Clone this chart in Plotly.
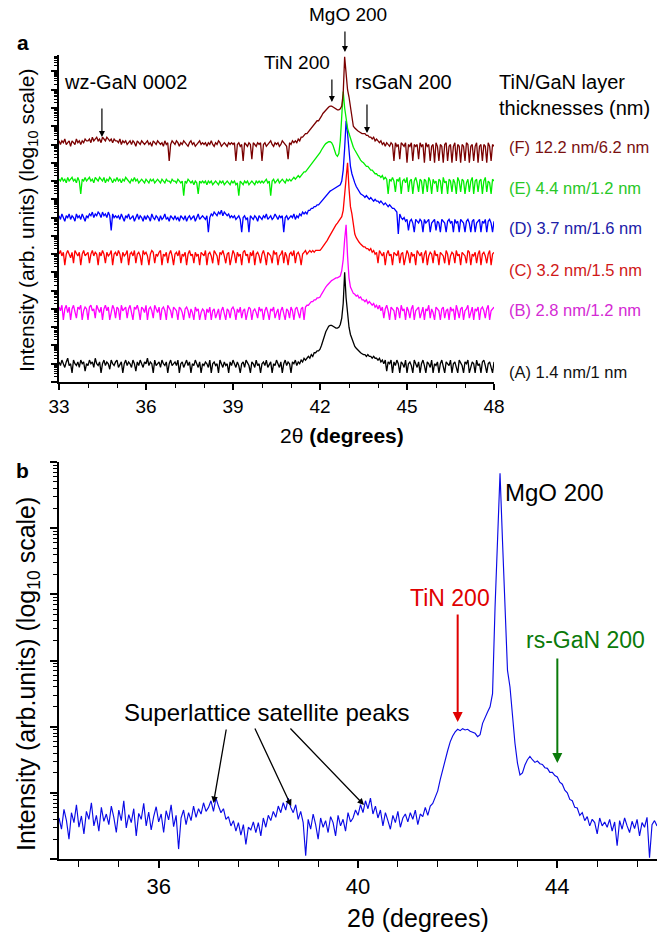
import numpy as np
import plotly.graph_objects as go

FONT = "Arial, Liberation Sans, sans-serif"
W, H = 668, 939

# ---------------- Panel a data (log10 intensity, arb. units, offset per sample) ----------------
# 2θ sampling: 0.05 deg throughout, in three stretches
a_left_range = (33.0, 41.95)
a_mid_range = (42.0, 43.45)
a_right_range = (43.5, 48.0)

A_left = [
    1.1, 0.9, 1.2, 1.0, 0.8, 1.1, 1.3, 0.9, 1.0, 0.5, 1.2, 1.0, 0.9, 1.1, 0.8, 1.2, 1.0, 1.1, 0.6, 1.0,
    0.9, 1.2, 1.0, 1.1, 0.8, 1.3, 1.0, 0.9, 1.1, 0.5, 1.0, 1.2, 0.9, 1.1, 1.0, 0.7, 1.2, 1.0, 0.9, 1.1,
    1.2, 0.8, 1.0, 1.1, 0.5, 1.0, 1.2, 0.9, 1.1, 1.0, 0.8, 1.2, 1.0, 0.6, 1.1, 0.9, 1.2, 1.0, 0.8, 1.1,
    1.0, 1.3, 0.9, 1.1, 1.0, 0.5, 1.2, 0.9, 1.0, 1.1, 0.8, 1.2, 1.0, 0.9, 1.1, 0.5, 1.0, 1.2, 0.9, 1.0,
    1.1, 0.9, 1.2, 0.5, 1.0, 1.1, 0.8, 1.0, 1.2, 0.9, 1.1, 0.5, 1.0, 0.9, 1.2, 1.0, 0.8, 1.1, 0.5, 1.0,
    0.9, 1.1, 1.0, 0.8, 1.2, 0.5, 1.0, 1.1, 0.9, 1.0, 0.5, 1.2, 1.0, 0.8, 1.1, 0.9, 1.0, 0.5, 1.1, 0.9,
    1.2, 1.0, 0.8, 1.1, 0.9, 0.5, 1.0, 1.1, 0.8, 1.2, 1.0, 0.9, 0.5, 1.1, 1.0, 0.8, 1.2, 0.9, 1.0, 0.5,
    1.0, 1.1, 0.9, 1.2, 0.8, 1.0, 1.1, 0.5, 1.0, 0.9, 1.2, 1.0, 0.8, 1.1, 0.5, 1.0, 1.2, 0.9, 1.1, 1.0,
    0.5, 1.1, 1.0, 1.2, 0.9, 1.1, 1.0, 1.2, 1.1, 1.3, 1.2, 1.3, 1.4, 1.3, 1.5, 1.4, 1.6, 1.6, 1.7, 1.7]
A_mid = [
    1.80, 2.00, 2.30, 2.55, 2.75, 2.90, 3.05, 3.10, 3.10, 3.05,
    3.00, 2.95, 2.95, 3.00, 3.15, 3.50, 4.30, 6.00, 4.60, 3.60,
    3.00, 2.60, 2.35, 2.15, 1.95, 1.85, 1.75, 1.70, 1.60, 1.55]
A_right = [
    1.5, 1.5, 1.4, 1.5, 1.4, 1.4, 1.3, 1.4, 1.3, 1.3, 1.2, 1.3, 1.1, 1.2, 1.0, 1.2, 0.6, 1.1, 1.0, 1.2,
    0.5, 1.1, 0.9, 1.2, 1.0, 0.5, 1.1, 1.0, 0.8, 1.2, 0.5, 1.0, 1.1, 0.9, 0.5, 1.2, 1.0, 0.8, 1.1, 0.5,
    1.0, 1.2, 0.9, 0.5, 1.1, 1.0, 0.8, 1.2, 0.5, 1.0, 0.9, 1.1, 0.5, 1.0, 1.2, 0.8, 0.5, 1.1, 1.0, 0.9,
    1.2, 0.5, 1.0, 1.1, 0.8, 0.5, 1.2, 1.0, 0.9, 0.5, 1.1, 1.0, 1.2, 0.5, 0.9, 1.1, 1.0, 0.5, 1.2, 0.9,
    1.0, 0.5, 1.1, 1.2, 0.9, 0.5, 1.0, 1.1, 0.8, 0.5, 1.1]

B_left = [
    4.1, 3.9, 4.2, 3.4, 4.0, 4.2, 3.8, 4.1, 3.4, 4.0, 4.2, 3.9, 3.5, 4.1, 4.0, 4.2, 3.4, 3.9, 4.1, 4.0,
    3.4, 4.1, 4.2, 3.9, 4.0, 3.5, 4.2, 4.0, 3.8, 4.1, 3.4, 4.0, 4.2, 3.9, 4.1, 3.4, 3.9, 4.2, 4.0, 3.5,
    4.1, 4.0, 3.4, 4.2, 3.9, 4.0, 4.1, 3.5, 4.0, 4.2, 3.8, 3.4, 4.1, 4.0, 4.2, 3.9, 3.4, 4.1, 4.0, 3.8,
    4.2, 3.4, 4.0, 4.1, 3.9, 3.5, 4.2, 4.0, 3.8, 4.1, 3.4, 4.0, 4.1, 3.9, 3.4, 4.2, 4.0, 3.9, 3.5, 4.1,
    4.0, 3.9, 3.4, 4.1, 4.0, 3.8, 3.4, 4.0, 4.1, 3.9, 3.5, 4.0, 3.8, 3.4, 4.1, 3.9, 4.0, 3.4, 3.8, 4.0,
    3.9, 3.4, 4.0, 3.8, 4.1, 3.4, 3.9, 4.0, 3.5, 3.8, 4.0, 3.4, 3.9, 4.1, 3.8, 3.4, 4.0, 3.9, 3.5, 4.0,
    4.1, 3.9, 3.4, 4.0, 3.8, 4.1, 3.5, 3.9, 4.0, 3.4, 3.8, 4.1, 4.0, 3.4, 3.9, 4.0, 3.8, 3.5, 4.1, 3.9,
    4.0, 3.4, 3.9, 4.1, 3.8, 3.4, 4.0, 3.9, 4.1, 3.5, 3.8, 4.0, 3.4, 3.9, 4.1, 3.8, 3.4, 4.0, 3.9, 3.5,
    4.1, 3.9, 3.4, 4.0, 4.1, 3.8, 3.5, 4.0, 4.1, 3.4, 4.1, 4.2, 4.2, 4.3, 4.4, 4.4, 4.5, 4.5, 4.6, 4.6]
B_mid = [
    4.65, 4.80, 4.95, 5.10, 5.20, 5.30, 5.40, 5.45, 5.55, 5.60,
    5.65, 5.70, 5.70, 5.75, 5.80, 6.10, 6.70, 7.80, 8.60, 6.90,
    5.70, 5.20, 5.00, 4.85, 4.80, 4.70, 4.75, 4.60, 4.65, 4.50]
B_right = [
    4.5, 4.4, 4.5, 4.3, 4.4, 4.3, 4.2, 4.3, 4.1, 4.2, 4.0, 4.2, 3.9, 4.1, 3.5, 4.0, 4.2, 3.9, 3.4, 4.1,
    4.0, 3.9, 3.4, 4.1, 4.0, 3.5, 4.2, 3.9, 4.0, 3.4, 4.1, 3.9, 3.5, 4.0, 4.2, 3.4, 3.9, 4.0, 4.1, 3.5,
    3.9, 4.1, 3.4, 4.0, 3.9, 4.2, 3.5, 4.0, 3.8, 3.4, 4.1, 4.0, 3.9, 3.4, 4.0, 4.1, 3.5, 3.9, 4.0, 3.4,
    4.1, 3.9, 4.0, 3.4, 4.2, 3.9, 3.5, 4.0, 4.1, 3.4, 3.9, 4.0, 4.2, 3.5, 3.9, 4.1, 3.4, 4.0, 3.9, 4.1,
    3.4, 4.0, 4.1, 3.9, 3.5, 4.0, 4.2, 3.4, 3.9, 4.0, 4.1]

C_left = [
    7.0, 7.2, 6.9, 7.1, 6.4, 7.0, 7.2, 7.0, 6.8, 7.1, 6.5, 7.2, 7.0, 6.9, 7.1, 6.4, 7.0, 7.2, 6.9, 7.0,
    7.1, 6.5, 7.0, 7.2, 6.9, 7.1, 7.0, 6.4, 7.1, 6.9, 7.2, 7.0, 6.5, 7.1, 6.9, 7.0, 7.2, 6.4, 7.0, 7.1,
    6.9, 7.2, 7.0, 6.5, 7.1, 6.9, 7.0, 7.2, 6.4, 7.0, 7.1, 6.9, 7.2, 6.5, 7.0, 7.1, 6.9, 6.4, 7.2, 7.0,
    7.1, 6.9, 6.4, 7.0, 7.2, 7.1, 6.5, 7.0, 6.9, 7.1, 7.2, 6.4, 7.0, 6.9, 7.1, 6.5, 7.0, 7.2, 6.9, 6.4,
    7.0, 7.1, 6.9, 7.2, 6.5, 7.0, 6.9, 7.1, 6.4, 7.0, 7.2, 6.9, 7.0, 6.5, 7.1, 6.9, 7.0, 6.4, 7.1, 7.0,
    6.9, 7.2, 6.4, 7.0, 7.1, 6.9, 6.5, 7.2, 7.0, 6.9, 6.4, 7.1, 7.0, 7.2, 6.9, 6.5, 7.0, 7.1, 6.4, 6.9,
    7.2, 7.0, 6.5, 7.1, 6.9, 7.0, 6.4, 7.1, 7.2, 6.9, 7.0, 6.5, 7.1, 6.9, 7.2, 6.4, 7.0, 7.1, 6.9, 6.5,
    7.0, 7.2, 6.9, 6.4, 7.1, 7.0, 6.9, 6.5, 7.2, 7.0, 7.1, 6.4, 6.9, 7.0, 7.2, 6.5, 7.1, 6.9, 6.4, 7.0,
    7.1, 6.9, 7.2, 6.5, 7.0, 7.1, 6.9, 6.4, 7.0, 7.1, 7.2, 7.0, 7.1, 7.2, 7.1, 7.2, 7.1, 7.2, 7.2, 7.2]
C_mid = [
    7.20, 7.30, 7.40, 7.50, 7.60, 7.75, 7.90, 8.05, 8.20, 8.35,
    8.50, 8.60, 8.70, 8.80, 8.90, 9.05, 9.40, 10.20, 11.30, 12.00,
    10.60, 9.60, 9.20, 8.60, 8.10, 7.90, 7.75, 7.65, 7.55, 7.45]
C_right = [
    7.4, 7.4, 7.3, 7.3, 7.2, 7.3, 7.1, 7.2, 7.0, 7.1, 6.5, 7.2, 7.0, 6.9, 7.1, 6.4, 7.0, 7.2, 6.9, 7.0,
    6.4, 7.1, 7.0, 6.9, 7.2, 6.5, 7.0, 7.1, 6.4, 6.9, 7.2, 7.0, 6.5, 7.1, 6.9, 7.0, 6.4, 7.2, 7.0, 6.9,
    7.1, 6.5, 7.0, 7.2, 6.4, 6.9, 7.1, 7.0, 6.5, 7.2, 6.9, 7.0, 6.4, 7.1, 7.0, 6.9, 6.5, 7.2, 7.0, 6.4,
    6.9, 7.1, 7.0, 6.5, 7.2, 6.9, 7.0, 6.4, 7.1, 7.0, 6.9, 6.5, 7.2, 7.1, 6.4, 7.0, 6.9, 7.1, 6.5, 7.0,
    7.2, 6.4, 7.0, 7.1, 6.9, 6.5, 7.0, 7.2, 6.4, 7.0, 7.1]

D_left = [
    9.1, 8.9, 9.2, 9.0, 8.8, 9.1, 9.0, 9.2, 8.9, 9.1, 9.0, 8.8, 9.2, 9.0, 9.1, 8.9, 9.2, 9.0, 8.8, 9.1,
    9.0, 9.2, 9.1, 9.3, 9.0, 9.2, 9.1, 9.3, 9.2, 9.0, 9.3, 9.1, 9.2, 9.0, 9.3, 9.1, 8.3, 9.2, 9.0, 9.1,
    9.0, 9.1, 8.9, 9.2, 9.0, 8.8, 9.1, 9.0, 9.2, 8.9, 9.0, 9.1, 8.8, 9.0, 9.2, 8.9, 9.1, 9.0, 8.8, 9.1,
    8.9, 9.1, 9.0, 8.8, 9.2, 9.0, 8.9, 9.1, 9.0, 8.8, 9.1, 8.9, 9.0, 9.2, 8.9, 9.0, 8.8, 9.1, 9.0, 8.9,
    9.1, 8.9, 9.0, 8.8, 9.1, 9.0, 8.9, 9.1, 8.8, 9.0, 9.1, 8.9, 9.0, 9.1, 8.8, 9.0, 9.2, 8.9, 9.0, 9.1,
    9.0, 8.9, 9.1, 8.2, 9.0, 9.2, 9.1, 9.3, 9.2, 9.1, 9.3, 9.2, 9.4, 9.1, 9.3, 9.2, 9.1, 9.2, 9.0, 9.1,
    9.0, 9.1, 8.9, 9.0, 9.1, 8.9, 8.2, 9.0, 9.1, 8.9, 9.0, 8.2, 9.1, 9.0, 8.9, 9.1, 9.0, 8.8, 9.1, 9.0,
    8.9, 9.1, 9.0, 9.2, 8.9, 9.0, 9.1, 8.9, 9.0, 9.2, 9.0, 8.9, 9.1, 9.0, 9.1, 8.2, 9.0, 9.1, 8.9, 9.0,
    9.1, 9.0, 9.2, 8.9, 9.1, 9.0, 9.2, 9.1, 9.3, 9.2, 9.3, 9.2, 9.4, 9.4, 9.5, 9.5, 9.6, 9.6, 9.7, 9.7]
D_mid = [
    9.80, 9.90, 10.00, 10.10, 10.20, 10.30, 10.35, 10.45, 10.50, 10.55,
    10.60, 10.65, 10.70, 10.75, 10.80, 11.00, 11.60, 12.80, 14.30, 13.60,
    12.40, 11.80, 11.40, 11.10, 10.90, 10.70, 10.55, 10.40, 10.30, 10.25]
D_right = [
    10.2, 10.1, 10.2, 10.1, 10.0, 10.1, 10.0, 9.9, 10.0, 9.9, 9.9, 9.8, 9.9, 9.8, 9.7, 9.8, 9.7, 9.6, 9.7, 9.6,
    9.5, 9.5, 9.4, 9.3, 8.1, 9.2, 9.0, 8.9, 9.0, 8.8, 8.9, 8.3, 8.8, 8.9, 8.7, 8.2, 8.9, 8.8, 8.7, 8.9,
    8.8, 8.2, 8.9, 8.7, 8.8, 8.9, 8.2, 8.7, 8.8, 8.9, 8.3, 8.8, 8.7, 8.2, 8.9, 8.8, 8.7, 8.2, 8.8, 8.9,
    8.7, 8.8, 8.2, 8.9, 8.7, 8.8, 8.2, 8.9, 8.8, 8.7, 8.2, 8.8, 8.9, 8.7, 8.2, 8.8, 8.9, 8.2, 8.7, 8.8,
    8.9, 8.2, 8.8, 8.7, 8.9, 8.2, 8.8, 8.9, 8.7, 8.2, 8.8]

E_left = [
    11.1, 11.0, 11.2, 11.0, 11.1, 10.9, 11.2, 11.0, 11.1, 11.2, 11.0, 11.1, 10.9, 11.2, 11.0, 10.3, 11.1, 11.0, 11.2, 11.0,
    11.1, 11.2, 11.0, 11.1, 10.9, 11.2, 11.1, 11.0, 11.2, 11.1, 11.0, 11.2, 10.9, 11.1, 11.0, 11.2, 11.1, 10.9, 11.1, 11.0,
    11.2, 11.0, 11.1, 10.9, 11.1, 11.0, 11.2, 11.1, 11.0, 10.9, 11.1, 11.0, 11.2, 11.0, 11.1, 10.9, 11.0, 11.1, 11.0, 10.9,
    11.1, 11.0, 10.9, 11.1, 11.0, 11.1, 10.9, 11.0, 11.1, 11.0, 10.9, 11.1, 11.0, 10.9, 11.1, 11.0, 11.0, 10.9, 11.1, 11.0,
    11.0, 10.9, 11.1, 11.0, 10.9, 11.0, 10.2, 11.0, 10.9, 11.1, 11.0, 10.9, 11.0, 10.8, 11.0, 10.9, 10.3, 11.0, 10.9, 11.0,
    10.9, 11.0, 10.8, 11.0, 10.9, 11.0, 10.8, 10.9, 11.0, 10.9, 10.8, 11.0, 10.9, 11.0, 10.8, 10.9, 11.0, 10.9, 10.8, 11.0,
    10.9, 11.0, 10.8, 10.9, 10.2, 11.0, 10.9, 10.8, 11.0, 10.9, 11.0, 10.8, 10.9, 11.0, 10.9, 10.8, 11.0, 10.9, 11.0, 10.9,
    11.0, 10.9, 11.0, 11.1, 10.9, 11.0, 10.2, 11.0, 11.1, 10.9, 11.0, 11.1, 10.9, 11.0, 11.1, 11.0, 10.9, 11.1, 11.0, 11.1,
    11.0, 11.1, 11.2, 11.1, 11.2, 11.3, 11.2, 11.3, 11.4, 11.5, 11.5, 11.6, 11.7, 11.8, 11.9, 12.0, 12.1, 12.2, 12.3, 12.4]
E_mid = [
    12.55, 12.70, 12.85, 12.95, 13.05, 13.10, 13.15, 13.15, 13.10, 12.95,
    12.70, 12.45, 12.35, 12.50, 13.20, 14.40, 15.90, 15.00, 14.30, 13.90,
    13.60, 13.30, 13.05, 12.85, 12.70, 12.55, 12.40, 12.25, 12.15, 12.05]
E_right = [
    12.0, 11.9, 11.8, 11.8, 11.7, 11.6, 11.6, 11.5, 11.4, 11.4, 11.3, 11.3, 11.2, 11.3, 11.1, 11.2, 11.1, 10.3, 11.1, 11.0,
    11.2, 11.0, 10.4, 11.1, 11.0, 11.2, 10.3, 11.0, 11.1, 10.9, 11.2, 10.4, 11.0, 11.1, 10.3, 11.0, 11.2, 10.9, 10.4, 11.1,
    11.0, 10.3, 11.1, 11.0, 10.4, 11.2, 11.0, 10.3, 11.1, 10.9, 11.0, 10.4, 11.1, 11.0, 10.3, 11.2, 10.9, 11.0, 10.3, 11.1,
    11.0, 10.4, 11.1, 10.9, 10.3, 11.2, 11.0, 10.4, 11.1, 11.0, 10.3, 10.9, 11.1, 10.4, 11.0, 11.2, 10.3, 11.0, 11.1, 10.4,
    11.0, 11.1, 10.3, 11.0, 11.2, 10.4, 11.0, 10.9, 10.3, 11.1, 11.0]

F_left = [
    13.2, 13.0, 13.2, 13.1, 13.3, 13.0, 13.1, 13.2, 12.9, 13.2, 13.1, 13.0, 13.3, 13.1, 13.2, 13.0, 13.2, 13.1, 13.3, 13.2,
    13.2, 13.3, 13.1, 13.4, 13.2, 13.3, 13.4, 13.2, 13.3, 13.1, 13.4, 13.3, 13.2, 13.4, 13.3, 13.2, 13.3, 13.1, 13.3, 13.2,
    13.2, 13.1, 13.3, 13.0, 13.2, 13.1, 13.2, 13.0, 13.1, 13.2, 13.0, 13.2, 13.1, 12.9, 13.2, 13.1, 13.0, 13.2, 13.1, 13.0,
    13.1, 13.2, 13.0, 13.1, 12.9, 13.2, 13.1, 13.0, 13.2, 13.1, 13.0, 13.1, 12.9, 13.2, 13.0, 13.1, 12.1, 13.0, 13.2, 13.1,
    13.0, 13.2, 13.1, 12.9, 13.1, 13.0, 13.2, 13.1, 13.0, 12.9, 13.1, 13.2, 13.0, 13.1, 12.9, 13.0, 13.1, 13.2, 13.0, 13.1,
    13.0, 13.1, 12.9, 13.1, 13.0, 13.2, 13.0, 12.9, 13.1, 13.0, 13.2, 13.1, 12.9, 13.0, 13.1, 13.0, 12.9, 13.1, 13.0, 13.1,
    13.0, 13.1, 12.1, 13.0, 13.1, 12.9, 13.0, 12.1, 13.1, 13.0, 12.9, 13.1, 13.0, 12.2, 13.1, 13.0, 12.9, 13.1, 13.0, 13.1,
    12.1, 13.0, 13.1, 12.9, 13.0, 13.1, 13.2, 13.0, 12.9, 13.1, 13.0, 13.1, 12.9, 13.0, 13.2, 13.1, 13.0, 12.9, 12.2, 13.1,
    13.0, 13.2, 13.1, 13.2, 13.1, 13.3, 13.2, 13.4, 13.4, 13.5, 13.6, 13.6, 13.7, 13.8, 13.9, 14.0, 14.1, 14.2, 14.3, 14.3]
F_mid = [
    14.40, 14.55, 14.70, 14.80, 14.90, 15.00, 15.05, 15.10, 15.10, 15.05,
    15.00, 14.95, 14.90, 14.90, 14.95, 15.10, 15.80, 17.80, 16.60, 16.00,
    15.60, 15.00, 14.40, 14.00, 13.90, 13.80, 13.75, 13.70, 13.65, 13.60]
F_right = [
    13.6, 13.6, 13.5, 13.5, 13.4, 13.4, 13.3, 13.4, 13.2, 13.3, 13.2, 13.1, 13.2, 13.0, 13.1, 12.9, 13.1, 13.0, 12.9, 13.1,
    13.0, 12.1, 13.1, 12.9, 13.0, 12.2, 13.1, 13.0, 12.9, 13.1, 12.0, 13.0, 12.9, 13.1, 12.1, 13.0, 12.9, 13.0, 12.2, 13.1,
    12.9, 13.0, 12.0, 13.1, 12.9, 13.0, 12.1, 12.9, 13.0, 12.0, 13.1, 12.9, 12.1, 13.0, 12.9, 12.0, 13.0, 13.1, 12.1, 12.9,
    13.0, 12.0, 12.9, 13.1, 12.1, 13.0, 12.9, 12.0, 13.0, 12.9, 12.1, 13.1, 13.0, 12.0, 12.9, 13.0, 12.1, 12.9, 13.1, 12.0,
    12.9, 13.0, 12.1, 13.0, 12.9, 12.0, 13.1, 12.9, 12.1, 13.0, 12.9]

sample_labels = ["(A) 1.4 nm/1 nm", "(B) 2.8 nm/1.2 nm", "(C) 3.2 nm/1.5 nm",
                 "(D) 3.7 nm/1.6 nm", "(E) 4.4 nm/1.2 nm", "(F) 12.2 nm/6.2 nm"]

# ---------------- Panel b data (log10 counts), 0.05 deg sampling ----------------
b_range = (34.0, 46.0)
b_log = [
    0.62, 0.45, 0.75, 0.58, 0.30, 0.70, 0.55, 0.82, 0.48, 0.65, 0.38, 0.72, 0.60, 0.85, 0.50, 0.66, 0.42, 0.78, 0.57, 0.68,
    0.52, 0.80, 0.63, 0.40, 0.74, 0.58, 0.88, 0.47, 0.67, 0.55, 0.76, 0.35, 0.69, 0.60, 0.84, 0.50, 0.71, 0.44, 0.64, 0.79,
    0.56, 0.68, 0.40, 0.73, 0.59, 0.82, 0.49, 0.66, 0.15, 0.62, 0.74, 0.52, 0.70, 0.58, 0.80, 0.63, 0.76, 0.68, 0.85, 0.72,
    0.78, 0.88, 0.72, 0.92, 0.80, 0.70, 0.76, 0.60, 0.64, 0.50, 0.58, 0.42, 0.55, 0.36, 0.52, 0.22, 0.48, 0.44, 0.56, 0.40,
    0.55, 0.35, 0.62, 0.48, 0.66, 0.58, 0.72, 0.63, 0.80, 0.70, 0.85, 0.74, 0.92, 0.78, 0.70, 0.82, 0.60, 0.72, 0.55, 0.05,
    0.60, 0.45, 0.68, 0.52, 0.30, 0.62, 0.48, 0.58, 0.40, 0.64, 0.55, 0.35, 0.66, 0.50, 0.60, 0.42, 0.70, 0.56, 0.62, 0.74,
    0.66, 0.82, 0.70, 0.88, 0.76, 0.92, 0.68, 0.80, 0.62, 0.74, 0.50, 0.70, 0.58, 0.45, 0.66, 0.55, 0.72, 0.48, 0.62, 0.68,
    0.56, 0.70, 0.60, 0.74, 0.52, 0.68, 0.64, 0.78, 0.66, 0.80, 0.84, 0.95, 1.03, 1.20, 1.36, 1.52, 1.64, 1.77, 1.86, 1.92,
    1.96, 1.94, 1.97, 1.95, 1.96, 1.93, 1.92, 1.90, 1.85, 1.88, 2.05, 2.15, 2.22, 2.30, 2.50, 3.80, 4.80, 5.83, 4.80, 3.80,
    2.85, 2.60, 2.10, 1.75, 1.45, 1.27, 1.30, 1.42, 1.50, 1.55, 1.50, 1.46, 1.48, 1.44, 1.43, 1.38, 1.37, 1.31, 1.31, 1.26,
    1.24, 1.16, 1.13, 1.04, 1.00, 0.90, 0.88, 0.78, 0.77, 0.66, 0.70, 0.58, 0.64, 0.50, 0.60, 0.55, 0.38, 0.62, 0.50, 0.56,
    0.48, 0.60, 0.42, 0.56, 0.20, 0.58, 0.45, 0.62, 0.50, 0.40, 0.57, 0.46, 0.60, 0.35, 0.55, 0.48, 0.63, 0.02, 0.52, 0.58,
    0.50]


def seg_x(rng, vals):
    return np.linspace(rng[0], rng[1], len(vals))


def build(left, mid, right):
    x = np.concatenate([seg_x(a_left_range, left), seg_x(a_mid_range, mid), seg_x(a_right_range, right)])
    y = 10 ** np.array(left + mid + right, dtype=float)
    return x, y


series_a = [
    (A_left, A_mid, A_right, "#000000", "#111111"),
    (B_left, B_mid, B_right, "#ff00ff", "#d42ad4"),
    (C_left, C_mid, C_right, "#ff0000", "#d01818"),
    (D_left, D_mid, D_right, "#0000ff", "#2020a8"),
    (E_left, E_mid, E_right, "#00ee00", "#28c828"),
    (F_left, F_mid, F_right, "#7a0000", "#7a1010"),
]

fig = go.Figure()
for (l, m, r, col, _), name in zip(series_a, sample_labels):
    x, y = build(l, m, r)
    fig.add_trace(go.Scatter(x=x, y=y, mode="lines", name=name,
                             line=dict(color=col, width=1.3), xaxis="x", yaxis="y"))

xb = seg_x(b_range, b_log)
yb = 10 ** np.array(b_log, dtype=float)
fig.add_trace(go.Scatter(x=xb, y=yb, mode="lines", name="b",
                         line=dict(color="#0a0ae6", width=1.15), xaxis="x2", yaxis="y2"))


def px(xp):
    return xp / W


def py(yp):
    return 1 - yp / H


axis_common = dict(showline=True, linecolor="black", linewidth=1.5, showgrid=False,
                   zeroline=False, ticks="outside", tickcolor="black", tickwidth=1.5,
                   automargin=False, title=dict(text=""))

fig.update_layout(
    template="none",
    width=W, height=H, autosize=False, margin=dict(l=0, r=0, t=0, b=0, pad=0),
    paper_bgcolor="white", plot_bgcolor="white", showlegend=False,
    font=dict(family=FONT, color="black"),
    xaxis=dict(domain=[px(59), px(494)], range=[33, 48], anchor="y",
               tickvals=[33, 36, 39, 42, 45, 48], ticklen=6,
               tickfont=dict(size=19, family=FONT, color="black"),
               minor=dict(ticks="outside", ticklen=4, dtick=1, tick0=33, tickcolor="black", tickwidth=1.2,
                          showgrid=False),
               **axis_common),
    yaxis=dict(domain=[py(382), py(55)], type="log", range=[0, 17.9], anchor="x",
               dtick=1, ticklen=6, showticklabels=False,
               minor=dict(ticks="outside", ticklen=3, dtick="D1", tickcolor="black", tickwidth=1,
                          showgrid=False),
               **axis_common),
    xaxis2=dict(domain=[px(59), px(657)], range=[34, 46], anchor="y2",
                tick0=36, dtick=4, ticklen=7,
                tickfont=dict(size=22, family=FONT, color="black"),
                minor=dict(ticks="outside", ticklen=6, dtick=0.8, tick0=36, tickcolor="black", tickwidth=1.2,
                           showgrid=False),
                **axis_common),
    yaxis2=dict(domain=[py(859), py(462)], type="log", range=[0, 6], anchor="x2",
                dtick=1, ticklen=7, showticklabels=False,
                minor=dict(ticks="outside", ticklen=4, dtick="D1", tickcolor="black", tickwidth=1,
                           showgrid=False),
                **axis_common),
)

ann = []


def text(t, x, y, size, color="black", xanchor="center", bold=False, angle=0):
    ann.append(dict(text=(f"<b>{t}</b>" if bold else t), x=px(x), y=py(y), xref="paper", yref="paper",
                    showarrow=False, xanchor=xanchor, yanchor="middle",
                    font=dict(size=size, color=color, family=FONT), textangle=angle))


def arrow(xd, xaxis, tail_y, tip_y, color="black", width=1.2, tail_dx=0, head=2, size=1.0):
    ann.append(dict(text="", x=xd, y=py(tip_y), xref=xaxis, yref="paper", showarrow=True,
                    ax=tail_dx, ay=tail_y - tip_y, axref="pixel", ayref="pixel",
                    arrowhead=head, arrowsize=size, arrowwidth=width, arrowcolor=color))


# ---- panel a texts
text("a", 23, 43, 21, bold=True)
text("MgO 200", 348, 15, 19)
text("TiN 200", 297, 62, 19)
text("wz-GaN 0002", 125, 82, 20)
text("rsGaN 200", 403, 82, 20)
text("TiN/GaN layer", 497, 82, 20, xanchor="left")
text("thicknesses (nm)", 497, 108, 20, xanchor="left")
label_y = [372, 310, 270, 228, 188, 147]
for (_, _, _, _, tcol), lab, ly in zip(series_a, sample_labels, label_y):
    text(lab, 507, ly, 16.5, color=tcol, xanchor="left")
text("Intensity (arb. units) (log<sub>10</sub> scale)", 28, 221, 21, angle=-90)
text("2θ <b>(degrees)</b>", 342, 436, 21)

arrow(42.86, "x", 30, 52)
arrow(42.41, "x", 78, 102)
arrow(43.62, "x", 103, 133)
arrow(34.48, "x", 107, 137)

# ---- panel b texts
text("b", 22, 470, 21, bold=True)
text("Intensity (arb.units) (log<sub>10</sub> scale)", 28, 674, 25, angle=-90)
text("2θ (degrees)", 418, 918, 25)
text("MgO 200", 503, 492, 24, xanchor="left")
text("TiN 200", 450, 598, 23, color="#e00000")
text("rs-GaN 200", 585, 640, 23, color="#0a7a0a")
text("Superlattice satellite peaks", 267, 712, 24)

arrow(42.0, "x2", 613, 722, color="#e00000", width=2)
arrow(44.0, "x2", 657, 763, color="#0a7a0a", width=2)
arrow(37.1, "x2", 728, 803, tail_dx=227 - 214, width=1.3)
arrow(38.66, "x2", 727, 806, tail_dx=255 - 292, width=1.3)
arrow(40.12, "x2", 727, 805, tail_dx=290 - 365, width=1.3)

fig.update_layout(annotations=ann)
fig.write_html("out.html", config={"displayModeBar": False},
               post_script="document.body.style.margin='0';document.body.style.overflow='hidden';")
